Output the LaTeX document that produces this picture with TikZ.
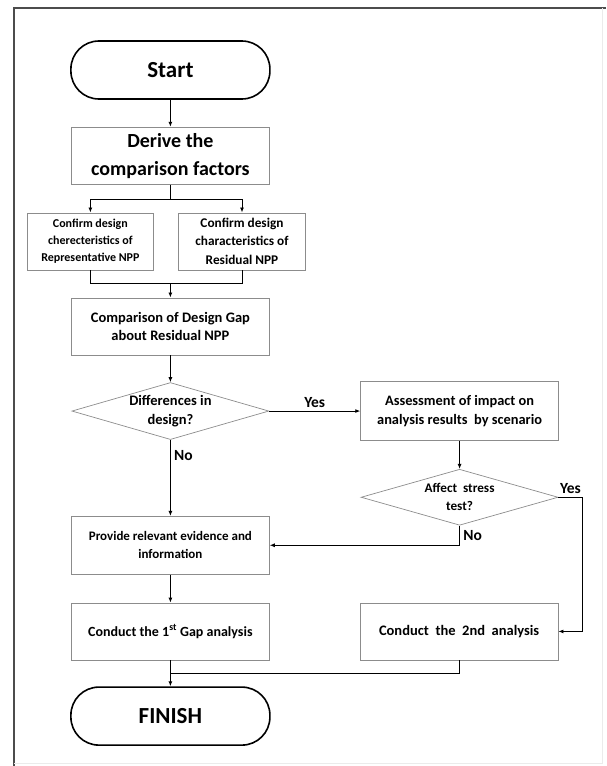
\documentclass[tikz,border=0pt]{standalone}
\usepackage{fontspec}
\setmainfont{Carlito}
\usepackage{tikz}
\usetikzlibrary{arrows.meta,positioning,shapes.geometric}
\newcommand{\boxfont}[2]{\fontsize{#1}{#2}\selectfont\bfseries}

\begin{document}
\begin{tikzpicture}[x=1pt, y=1pt,
      term/.style={draw, line width=1.6pt, rounded corners=28pt, minimum width=199pt, minimum height=58pt, font=\boxfont{23}{27}},
      box/.style={draw=black!45, line width=0.7pt, align=center, inner sep=2pt, minimum width=198pt, minimum height=57pt},
      dec/.style={diamond, draw=black!45, line width=0.7pt, aspect=3.46, align=center, inner sep=0pt, minimum width=197pt, minimum height=57pt},
      arr/.style={-{Latex[length=5pt, width=4pt]}, line width=0.9pt},
      lbl/.style={font=\boxfont{15.5}{18}}]
    \useasboundingbox (0,0) rectangle (606,-766);
    \draw[black!70, line width=2pt] (14,-766) -- (14,-8) -- (606,-8);
    \draw[black!8, line width=0.8pt] (602,-8) -- (602,-763) -- (14,-763);
    \node[term] (start) at (170.4,-70) {Start};
    \node[box, below=27pt of start, font=\boxfont{20}{28}] (derive) {Derive the\\comparison factors};
    \node[box, minimum width=126.5pt, below=28pt of derive, xshift=-80pt, font=\boxfont{12}{16.7}] (rep) {Confirm design\\cherecteristics of\\Representative NPP};
    \node[box, minimum width=127pt, below=28pt of derive, xshift=71.6pt, font=\boxfont{13.3}{18.3}] (res) {Confirm design\\characteristics of\\Residual NPP};
    \node[box, below=113pt of derive, font=\boxfont{14.5}{18.3}] (cmp) {Comparison of Design Gap\\about Residual NPP};
    \node[dec, below=27pt of cmp, font=\boxfont{14.5}{18.3}] (diff) {Differences in\\design?};
    \node[box, right=91pt of diff, minimum height=59pt, font=\boxfont{14.4}{18.3}] (assess) {Assessment of impact on\\analysis results~ by scenario};
    \node[dec, below=28pt of assess, minimum height=56pt, font=\boxfont{13.2}{18.3}] (stress) {Affect~ stress\\test?};
    \node[box, below=76pt of diff, minimum height=58pt, font=\boxfont{13}{18.3}] (provide) {Provide relevant evidence and\\information};
    \node[box, below=28pt of provide, font=\boxfont{14}{18}] (gap1) {Conduct the 1\textsuperscript{st} Gap analysis};
    \node[box, right=90pt of gap1, font=\boxfont{14.5}{18}] (gap2) {Conduct~ the~ 2nd~ analysis};
    \node[term, below=26pt of gap1] (finish) {FINISH};
    \coordinate[below=15pt of derive.south] (split);
    \coordinate[above=14pt of cmp.north] (merge);
    \coordinate[right=24pt of stress.east] (turn);
    \coordinate[below=13pt of gap1.south] (join);
    \draw[arr] (start) -- (derive);
    \draw (derive) -- (split);
    \draw[arr] (split) -| (rep);
    \draw[arr] (split) -| (res);
    \draw (rep.south) |- (merge) -| (res.south);
    \draw[arr] (merge) -- (cmp);
    \draw[arr] (cmp) -- (diff);
    \draw[arr] (diff) -- node[lbl, above] {Yes} (assess);
    \draw[arr] (diff) -- node[lbl, right, pos=0.2] {No} (provide);
    \draw[arr] (assess) -- (stress);
    \draw[arr] (stress) -- node[lbl, above] {Yes} (turn) |- (gap2);
    \draw[arr] (stress) |- node[lbl, right, pos=0.25] {No} (provide);
    \draw[arr] (provide) -- (gap1);
    \draw (gap2) |- (join);
    \draw[arr] (gap1) -- (finish);
  \end{tikzpicture}
\end{document}
